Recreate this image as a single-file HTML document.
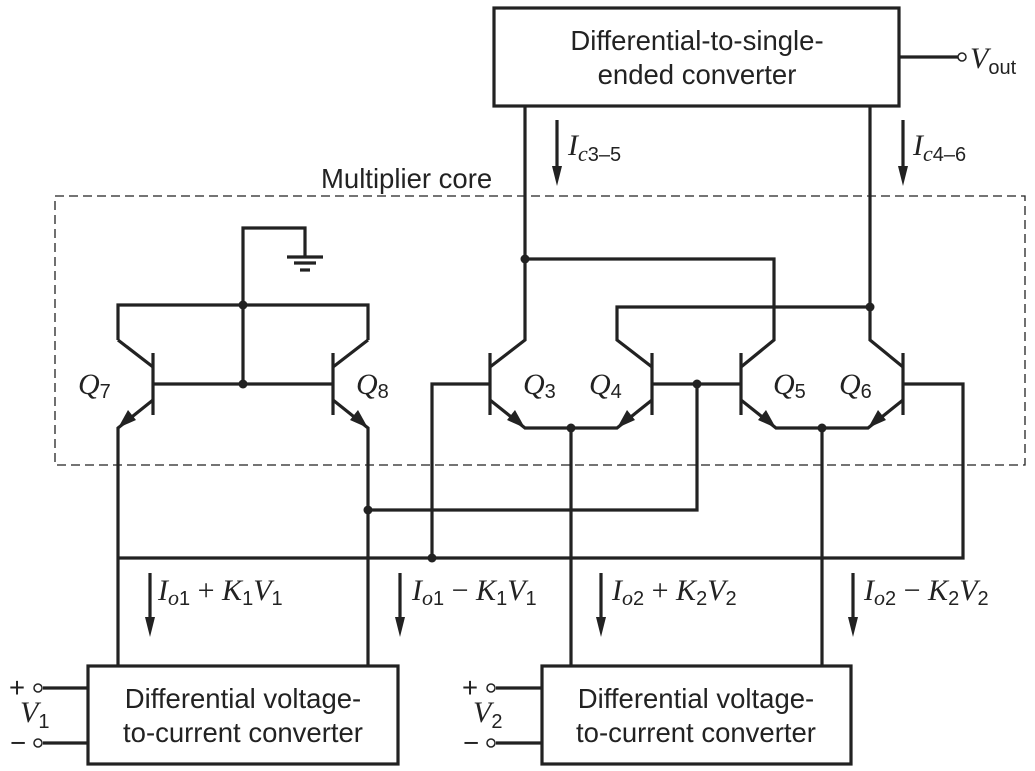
<!DOCTYPE html>
<html><head><meta charset="utf-8"><style>
html,body{margin:0;padding:0;background:#fff;}
svg{display:block;}
.s{font-family:"Liberation Sans",sans-serif;font-size:27.5px;fill:#222;}
.i{font-family:"Liberation Serif",serif;font-style:italic;font-size:30px;fill:#222;}
.sub{font-family:"Liberation Sans",sans-serif;font-style:normal;font-size:20px;}
</style></head><body>
<svg width="1035" height="771" viewBox="0 0 1035 771" xmlns="http://www.w3.org/2000/svg">
<g stroke="#222" stroke-width="3.2" fill="none" stroke-linejoin="miter">
<rect x="55" y="196" width="970" height="269" stroke-width="1.3" stroke-dasharray="9,5"/>
<rect x="494" y="8" width="405" height="98"/>
<rect x="88" y="666" width="310" height="98"/>
<rect x="542" y="666" width="309" height="98"/>
<line x1="899" y1="57" x2="958" y2="57"/>
<line x1="43" y1="688" x2="88" y2="688"/>
<line x1="43" y1="743" x2="88" y2="743"/>
<line x1="496" y1="688" x2="542" y2="688"/>
<line x1="496" y1="743" x2="542" y2="743"/>
<polyline points="243,305 243,228 305,228 305,257"/>
<line x1="287" y1="257" x2="323" y2="257"/>
<line x1="294" y1="263" x2="316" y2="263"/>
<line x1="300" y1="270" x2="310" y2="270"/>
<polyline points="118,340 118,305 368,305 368,340"/>
<line x1="243" y1="305" x2="243" y2="384"/>
<line x1="153" y1="353" x2="153" y2="415"/>
<line x1="333" y1="353" x2="333" y2="415"/>
<line x1="153" y1="384" x2="333" y2="384"/>
<line x1="118" y1="340" x2="153" y2="367"/>
<line x1="368" y1="340" x2="333" y2="367"/>
<polyline points="153,400 118,428 118,666"/>
<polyline points="333,400 368,428 368,666"/>
<polyline points="525,106 525,340 490,367"/>
<line x1="490" y1="353" x2="490" y2="415"/>
<line x1="652" y1="353" x2="652" y2="415"/>
<line x1="741" y1="353" x2="741" y2="415"/>
<line x1="903" y1="353" x2="903" y2="415"/>
<polyline points="525,259 774,259 774,340 741,367"/>
<polyline points="870,106 870,340 903,367"/>
<polyline points="652,367 617,340 617,307 870,307"/>
<polyline points="490,400 525,428 617,428 652,400"/>
<polyline points="741,400 776,428 868,428 903,400"/>
<line x1="652" y1="384" x2="741" y2="384"/>
<polyline points="903,384 963,384 963,558 118,558"/>
<polyline points="490,384 432,384 432,558"/>
<polyline points="697,384 697,510 368,510"/>
<line x1="571" y1="428" x2="571" y2="666"/>
<line x1="822" y1="428" x2="822" y2="666"/>
<line x1="557" y1="120" x2="557" y2="170"/>
<line x1="903" y1="120" x2="903" y2="170"/>
<line x1="150" y1="573" x2="150" y2="622"/>
<line x1="400" y1="573" x2="400" y2="622"/>
<line x1="601" y1="573" x2="601" y2="622"/>
<line x1="853" y1="573" x2="853" y2="622"/>
</g>
<g fill="#222">
<polygon points="552,166 562,166 557,186"/><polygon points="898,166 908,166 903,186"/>
<polygon points="145,617 155,617 150,637"/><polygon points="395,617 405,617 400,637"/>
<polygon points="596,617 606,617 601,637"/><polygon points="848,617 858,617 853,637"/>
<polygon points="118,428 128,410 136,420"/>
<polygon points="368,428 358,410 350,420"/>
<polygon points="525,428 515,410 507,420"/>
<polygon points="617,428 627,410 635,420"/>
<polygon points="776,428 766,410 758,420"/>
<polygon points="868,428 878,410 886,420"/>
<circle cx="243" cy="305" r="4.5"/><circle cx="243" cy="384" r="4.5"/>
<circle cx="525" cy="259" r="4.5"/><circle cx="870" cy="307" r="4.5"/>
<circle cx="697" cy="384" r="4.5"/><circle cx="571" cy="428" r="4.5"/>
<circle cx="822" cy="428" r="4.5"/><circle cx="368" cy="510" r="4.5"/>
<circle cx="432" cy="558" r="4.5"/>
</g>
<g fill="#fff" stroke="#222" stroke-width="1.5">
<circle cx="962" cy="57" r="4"/>
<circle cx="38" cy="688" r="4"/><circle cx="38" cy="743" r="4"/>
<circle cx="491" cy="688" r="4"/><circle cx="491" cy="743" r="4"/>
</g>
<text class="s" x="697" y="50" text-anchor="middle">Differential-to-single-</text>
<text class="s" x="697" y="84" text-anchor="middle">ended converter</text>
<text class="s" x="243" y="708" text-anchor="middle">Differential voltage-</text>
<text class="s" x="243" y="742" text-anchor="middle">to-current converter</text>
<text class="s" x="696" y="708" text-anchor="middle">Differential voltage-</text>
<text class="s" x="696" y="742" text-anchor="middle">to-current converter</text>
<text class="s" x="321" y="188">Multiplier core</text>
<text class="i" x="970" y="68">V<tspan class="sub" dy="6">out</tspan></text>
<text class="i" x="568" y="155">I<tspan dy="6" font-size="22">c</tspan><tspan class="sub">3–5</tspan></text>
<text class="i" x="913" y="155">I<tspan dy="6" font-size="22">c</tspan><tspan class="sub">4–6</tspan></text>
<text class="i" x="78" y="394">Q<tspan class="sub" dy="4">7</tspan></text>
<text class="i" x="356" y="394">Q<tspan class="sub" dy="4">8</tspan></text>
<text class="i" x="523" y="394">Q<tspan class="sub" dy="4">3</tspan></text>
<text class="i" x="589" y="394">Q<tspan class="sub" dy="4">4</tspan></text>
<text class="i" x="773" y="394">Q<tspan class="sub" dy="4">5</tspan></text>
<text class="i" x="839" y="394">Q<tspan class="sub" dy="4">6</tspan></text>
<text class="i" x="158" y="600">I<tspan dy="5" font-size="22">o</tspan><tspan class="sub">1</tspan><tspan dy="-5" font-style="normal"> + </tspan><tspan>K</tspan><tspan class="sub" dy="5">1</tspan><tspan dy="-5">V</tspan><tspan class="sub" dy="5">1</tspan></text>
<text class="i" x="412" y="600">I<tspan dy="5" font-size="22">o</tspan><tspan class="sub">1</tspan><tspan dy="-5" font-style="normal"> − </tspan><tspan>K</tspan><tspan class="sub" dy="5">1</tspan><tspan dy="-5">V</tspan><tspan class="sub" dy="5">1</tspan></text>
<text class="i" x="612" y="600">I<tspan dy="5" font-size="22">o</tspan><tspan class="sub">2</tspan><tspan dy="-5" font-style="normal"> + </tspan><tspan>K</tspan><tspan class="sub" dy="5">2</tspan><tspan dy="-5">V</tspan><tspan class="sub" dy="5">2</tspan></text>
<text class="i" x="864" y="600">I<tspan dy="5" font-size="22">o</tspan><tspan class="sub">2</tspan><tspan dy="-5" font-style="normal"> − </tspan><tspan>K</tspan><tspan class="sub" dy="5">2</tspan><tspan dy="-5">V</tspan><tspan class="sub" dy="5">2</tspan></text>
<text class="s" x="9" y="697">+</text><text class="s" x="10" y="752">−</text>
<text class="s" x="462" y="697">+</text><text class="s" x="463" y="752">−</text>
<text class="i" x="20" y="722">V<tspan class="sub" dy="6">1</tspan></text>
<text class="i" x="473" y="722">V<tspan class="sub" dy="6">2</tspan></text>
</svg>
</body></html>
